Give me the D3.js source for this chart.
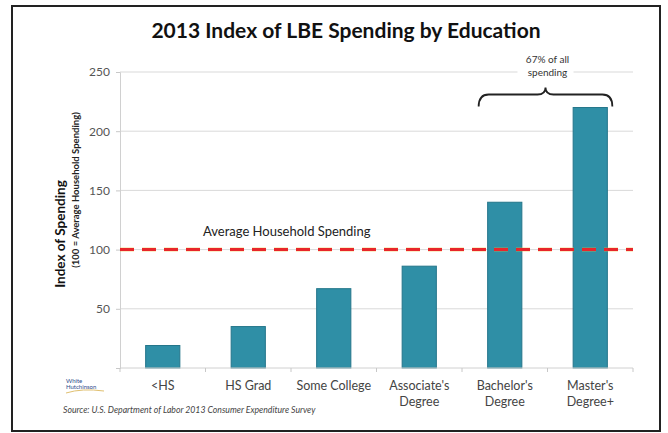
<!DOCTYPE html>
<html>
<head>
<meta charset="utf-8">
<script src="https://cdn.jsdelivr.net/npm/d3@7"></script>
<style>
	body { margin: 0; background: #fff; }
	svg { font-family: Lato, "Open Sans", sans-serif; }
</style>
</head>
<body>
<div id="chart"></div>
<script>
// chart values
let categories = [["<HS"], ["HS Grad"], ["Some College"], ["Associate's", "Degree"], ["Bachelor's", "Degree"], ["Master's", "Degree+"]];
let values = [19, 35, 67, 86, 140, 220];
let yTicks = [50, 100, 150, 200, 250];
let avgValue = 100;
let braceCats = [4, 5];

let W = 668, H = 433;
let margin = {top: 72, right: 35, bottom: 65, left: 120};
let width = W - margin.left - margin.right;
let height = H - margin.top - margin.bottom;

let svg = d3.select("#chart").append("svg")
	.attr("width", W)
	.attr("height", H);

// frame round the slide
svg.append("rect")
	.attr("x", 12).attr("y", 6)
	.attr("width", 648).attr("height", 425)
	.attr("fill", "none")
	.attr("stroke", "#222")
	.attr("stroke-width", 2);

svg.append("text")
	.attr("x", 346).attr("y", 38)
	.attr("text-anchor", "middle")
	.style("font-size", "21px")
	.style("font-weight", "bold")
	.attr("fill", "#111")
	.text("2013 Index of LBE Spending by Education");

let g = svg.append("g")
	.attr("transform", "translate(" + margin.left + "," + margin.top + ")");

let x = d3.scaleBand()
	.domain(d3.range(categories.length))
	.range([0, width])
	.paddingInner(0.6)
	.paddingOuter(0.3);

let y = d3.scaleLinear()
	.domain([0, 250])
	.range([height, 0]);

// gridlines
g.selectAll(".grid")
	.data(yTicks)
	.enter()
	.append("line")
	.attr("class", "grid")
	.attr("x1", 0).attr("x2", width)
	.attr("y1", d => y(d)).attr("y2", d => y(d))
	.attr("stroke", "#d9d9d9")
	.attr("stroke-width", 1);

// y axis
let yAxis = d3.axisLeft(y).tickValues([0].concat(yTicks)).tickSize(4).tickPadding(6)
	.tickFormat(d => d === 0 ? "" : d);
let ya = g.append("g").call(yAxis);
ya.select(".domain").attr("stroke", "#d0d0d0");
ya.selectAll(".tick line").attr("stroke", "#c8c8c8");
ya.selectAll(".tick text").attr("fill", "#555").style("font-size", "12px")
	.style("font-family", "Lato, sans-serif");

// bars
g.selectAll(".bar")
	.data(values)
	.enter()
	.append("rect")
	.attr("class", "bar")
	.attr("x", (d, i) => x(i))
	.attr("y", d => y(d))
	.attr("width", x.bandwidth())
	.attr("height", d => height - y(d))
	.attr("fill", "#2f8fa6")
	.attr("stroke", "#24768a")
	.attr("stroke-width", 1);

// x axis line with ticks between categories
g.append("line")
	.attr("x1", 0).attr("x2", width)
	.attr("y1", height).attr("y2", height)
	.attr("stroke", "#d0d0d0");
g.selectAll(".xtick")
	.data(d3.range(categories.length + 1))
	.enter()
	.append("line")
	.attr("class", "xtick")
	.attr("x1", i => i * x.step())
	.attr("x2", i => i * x.step())
	.attr("y1", height).attr("y2", height + 4)
	.attr("stroke", "#c8c8c8");

// category labels
let labels = g.selectAll(".xlab")
	.data(categories)
	.enter()
	.append("text")
	.attr("class", "xlab")
	.attr("text-anchor", "middle")
	.attr("fill", "#444")
	.style("font-size", "12.5px")
	.attr("transform", (d, i) => "translate(" + (x(i) + x.bandwidth() / 2) + "," + (height + 22) + ")");
labels.selectAll("tspan")
	.data(d => d)
	.enter()
	.append("tspan")
	.attr("x", 0)
	.attr("dy", (d, i) => i === 0 ? 0 : 16)
	.text(d => d);

// average line
g.append("line")
	.attr("x1", 0).attr("x2", width)
	.attr("y1", y(avgValue)).attr("y2", y(avgValue))
	.attr("stroke", "#f0c030")
	.attr("stroke-width", 4)
	.attr("stroke-dasharray", "14,8")
	.attr("opacity", 0.5);
g.append("line")
	.attr("x1", 0).attr("x2", width)
	.attr("y1", y(avgValue)).attr("y2", y(avgValue))
	.attr("stroke", "#e8262a")
	.attr("stroke-width", 3)
	.attr("stroke-dasharray", "14,8");

g.append("text")
	.attr("x", 83).attr("y", y(avgValue) - 14)
	.attr("fill", "#222")
	.style("font-size", "13px")
	.text("Average Household Spending");

// brace and note over the top two groups
let bx0 = x(braceCats[0]) - 9;
let bx1 = x(braceCats[1]) + x.bandwidth() + 5;
let bm = (bx0 + bx1) / 2;
let by = y(220) - 13;
let bracePath = d3.path();
bracePath.moveTo(bx0, by + 12);
bracePath.quadraticCurveTo(bx0, by, bx0 + 10, by);
bracePath.lineTo(bm - 8, by);
bracePath.quadraticCurveTo(bm, by, bm, by - 7);
bracePath.quadraticCurveTo(bm, by, bm + 8, by);
bracePath.lineTo(bx1 - 10, by);
bracePath.quadraticCurveTo(bx1, by, bx1, by + 12);
g.append("path")
	.attr("d", bracePath.toString())
	.attr("fill", "none")
	.attr("stroke", "#222")
	.attr("stroke-width", 1.8);

g.append("rect")
	.attr("x", bm - 28).attr("y", y(250) - 4)
	.attr("width", 56).attr("height", 8)
	.attr("fill", "#fff");
let note = g.append("text")
	.attr("text-anchor", "middle")
	.attr("fill", "#333")
	.style("font-size", "10px")
	.attr("transform", "translate(" + (bm + 2) + "," + (y(250) - 9) + ")");
note.append("tspan").attr("x", 0).attr("dy", 0).text("67% of all");
note.append("tspan").attr("x", 0).attr("dy", 13).text("spending");

// y axis title
svg.append("text")
	.attr("transform", "translate(65,234)rotate(-90)")
	.attr("text-anchor", "middle")
	.attr("fill", "#111")
	.style("font-size", "13.5px")
	.style("font-weight", "bold")
	.text("Index of Spending");
svg.append("text")
	.attr("transform", "translate(79,190)rotate(-90)")
	.attr("text-anchor", "middle")
	.attr("fill", "#222")
	.style("font-size", "9.5px")
	.style("font-weight", "bold")
	.text("(100 = Average Household Spending)");

// logo and source
let logo = svg.append("text")
	.attr("x", 66).attr("y", 383)
	.attr("fill", "#2b4a8a")
	.style("font-size", "6px");
logo.append("tspan").attr("x", 66).attr("dy", 0).text("White");
logo.append("tspan").attr("x", 66).attr("dy", 6).text("Hutchinson");
svg.append("path")
	.attr("d", "M66,393 Q82,388 104,391")
	.attr("fill", "none")
	.attr("stroke", "#e0c070")
	.attr("stroke-width", 1);

svg.append("text")
	.attr("x", 63).attr("y", 413)
	.attr("fill", "#444")
	.style("font-size", "8.7px")
	.style("font-style", "italic")
	.text("Source: U.S. Department of Labor 2013 Consumer Expenditure Survey");
</script>
</body>
</html>
